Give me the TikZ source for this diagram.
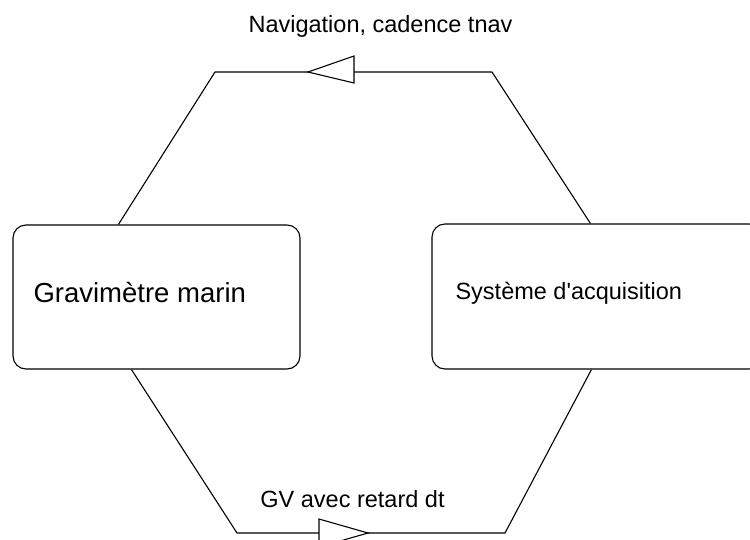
\documentclass[tikz,border=0pt]{standalone}
\usepackage{fontspec}
\setmainfont{Liberation Sans}
\usetikzlibrary{calc}
\begin{document}
\begin{tikzpicture}[x=1pt,y=-1pt,
  line width=1.1pt,
  box/.style={draw,rounded corners=13pt,inner sep=0pt},
  flowlabel/.style={inner sep=0pt,font=\fontsize{23.5}{26}\selectfont},
  boxlabel/.style={inner sep=0pt,anchor=west},
  headtri/.style={draw,fill=white,line join=miter}]
\useasboundingbox (0,0) rectangle (750,540);
\clip (0,0) rectangle (750,540);

% the two units
\node[box,minimum width=287pt,minimum height=144pt] (grav) at (156.5,297) {};
\node[box,minimum width=330pt,minimum height=145pt] (acq) at (597,296.5) {};
\node[boxlabel,font=\fontsize{27.5}{30}\selectfont] (gravtxt) at (33,293) {Gravimètre marin};
\node[boxlabel,font=\fontsize{23.5}{26}\selectfont] (acqtxt) at (455,293) {Système d\textquotesingle acquisition};

% attachment points and bends of the two links
\coordinate (gtop) at ($(grav.north west)+(106,0)$);
\coordinate (gbot) at ($(grav.south west)+(119,0)$);
\coordinate (atop) at ($(acq.north west)+(159,0)$);
\coordinate (abot) at ($(acq.south west)+(160,0)$);
\coordinate (n1) at (215,72);
\coordinate (n2) at (492,72);
\coordinate (b1) at (237,533);
\coordinate (b2) at (505,533);

% navigation link (acquisition -> gravimeter)
\draw (atop) -- (n2) -- (n1) -- (gtop);
\draw[headtri] (308,72) -- (354,56) -- (354,83) -- cycle;
\node[flowlabel] (navlbl) at (380.5,26) {Navigation, cadence tnav};

% gravity link (gravimeter -> acquisition)
\draw (gbot) -- (b1) -- (b2) -- (abot);
\draw[headtri] (368,533) -- (319,519) -- (319,547) -- cycle;
\node[flowlabel] (gvlbl) at (352.5,499) {GV avec retard dt};
\end{tikzpicture}
\end{document}
